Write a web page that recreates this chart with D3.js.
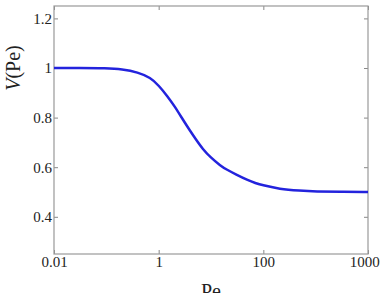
<!DOCTYPE html>
<html>
<head>
<meta charset="utf-8">
<script src="https://cdn.jsdelivr.net/npm/d3@7"></script>
<style>
  body { margin: 0; background: #fff; }
</style>
</head>
<body>
<script>
// data
const pe = [0.01, 0.03, 0.1, 0.2, 0.4, 0.7, 1, 1.5, 2, 3, 4, 5, 7, 10, 15, 20, 30, 50, 70, 100, 200, 500, 1000, 3000, 10000]
const v = [1.0, 1.0, 0.999, 0.995, 0.983, 0.961, 0.93, 0.884, 0.847, 0.787, 0.746, 0.716, 0.672, 0.638, 0.607, 0.59, 0.571, 0.548, 0.536, 0.527, 0.512, 0.505, 0.502, 0.501, 0.5]
const x_ticks = [0.01, 1, 100, 10000]
const x_labels = ["0.01", "1", "100", "10000"]
const y_ticks = [0.4, 0.6, 0.8, 1, 1.2]
const y_labels = ["0.4", "0.6", "0.8", "1", "1.2"]

const serif = "'Liberation Serif', 'Times New Roman', 'DejaVu Serif', serif"

const svg = d3.select("body").append("svg")
    .attr("width", 380)
    .attr("height", 293)

const scale_x = d3.scaleLog().domain([0.01, 10000]).range([54, 368])
const scale_y = d3.scaleLinear().domain([0.25, 1.25]).range([254, 6])

const axis_x = d3.axisBottom(scale_x).tickValues(x_ticks)
    .tickFormat((d, i) => x_labels[i]).tickSizeInner(-4).tickSizeOuter(0).tickPadding(2)
const axis_y = d3.axisLeft(scale_y).tickValues(y_ticks)
    .tickFormat((d, i) => y_labels[i]).tickSizeInner(-4).tickSizeOuter(0).tickPadding(2)
const axis_top = d3.axisTop(scale_x).tickValues(x_ticks)
    .tickFormat("").tickSizeInner(-4).tickSizeOuter(0)
const axis_right = d3.axisRight(scale_y).tickValues(y_ticks)
    .tickFormat("").tickSizeInner(-4).tickSizeOuter(0)

const gx = svg.append("g").attr("transform", "translate(0,254)").call(axis_x)
const gy = svg.append("g").attr("transform", "translate(54,0)").call(axis_y)
const gt = svg.append("g").attr("transform", "translate(0,6)").call(axis_top)
const gr = svg.append("g").attr("transform", "translate(368,0)").call(axis_right)

for (const g of [gx, gy, gt, gr]) {
    g.select(".domain").remove()
    g.selectAll(".tick line").attr("stroke", "#888")
    g.selectAll(".tick text")
        .style("font-family", serif)
        .style("font-size", "15px")
        .attr("fill", "#222")
}

// frame
svg.append("rect")
    .attr("x", 54).attr("y", 6)
    .attr("width", 314).attr("height", 248)
    .attr("fill", "none")
    .attr("stroke", "#999")
    .attr("stroke-width", 1.2)

const line = d3.line()
    .x((d, i) => scale_x(pe[i]))
    .y((d, i) => scale_y(v[i]))
    .curve(d3.curveBasis)

svg.append("path")
    .attr("d", line(pe))
    .attr("fill", "none")
    .attr("stroke", "#2323dd")
    .attr("stroke-width", 2.5)

svg.append("text")
    .attr("x", 211).attr("y", 298)
    .attr("text-anchor", "middle")
    .style("font-family", serif)
    .style("font-size", "20px")
    .attr("fill", "#222")
    .text("Pe")

const ylab = svg.append("text")
    .attr("transform", "translate(20,68) rotate(-90)")
    .attr("text-anchor", "middle")
    .style("font-family", serif)
    .style("font-size", "20px")
    .attr("fill", "#222")
ylab.append("tspan").attr("font-style", "italic").text("V")
ylab.append("tspan").text("(Pe)")
</script>
</body>
</html>
